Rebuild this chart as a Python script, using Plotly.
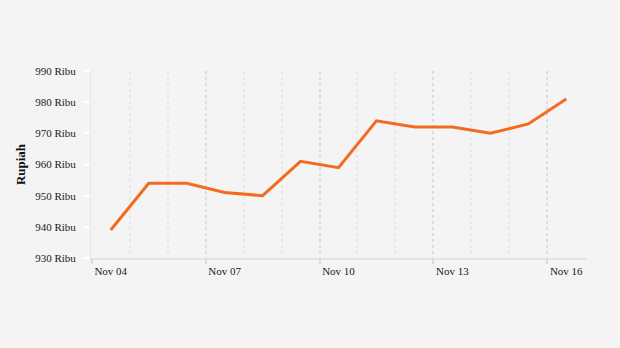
import plotly.graph_objects as go

dates = ["Nov 04", "Nov 05", "Nov 06", "Nov 07", "Nov 08", "Nov 09", "Nov 10",
         "Nov 11", "Nov 12", "Nov 13", "Nov 14", "Nov 15", "Nov 16"]
prices = [939, 954, 954, 951, 950, 961, 959, 974, 972, 972, 970, 973, 981]
y_ticks = [930, 940, 950, 960, 970, 980, 990]
y_tick_text = [f"{v} Ribu" for v in y_ticks]
x_label_idx = [0, 3, 6, 9, 12]

FONT = "Liberation Serif, Times New Roman, serif"
xs = list(range(len(dates)))

fig = go.Figure()
fig.add_trace(go.Scatter(x=xs, y=prices, mode="lines",
                         line=dict(color="#f26b21", width=3),
                         hoverinfo="skip", showlegend=False))
# invisible trace to activate the grid axis
fig.add_trace(go.Scatter(x=[xs[0]], y=[prices[0]], xaxis="x2", mode="markers",
                         marker=dict(opacity=0), hoverinfo="skip", showlegend=False))

xr = [-0.52, len(dates) - 0.48]
fig.update_layout(
    width=620, height=348,
    margin=dict(l=91, r=34, t=71, b=90),
    paper_bgcolor="#f4f4f4", plot_bgcolor="#f4f4f4",
    font=dict(family=FONT, size=11, color="#1a1a1a"),
    xaxis=dict(range=xr, tickvals=[xs[i] for i in x_label_idx],
               ticktext=[dates[i] for i in x_label_idx],
               showgrid=False, zeroline=False, ticks="",
               showline=True, linecolor="#e2e2e2", linewidth=2,
               ticklabelstandoff=2),
    xaxis2=dict(range=xr, overlaying="x", side="bottom", showticklabels=False,
                tickvals=[-0.5, 2.5, 5.5, 8.5, 11.5],
                ticks="outside", ticklen=5, tickcolor="#dcdcdc", tickwidth=1.5,
                showgrid=True, gridcolor="#dcdcdc", griddash="3px,3px", gridwidth=1.5,
                minor=dict(tick0=-0.5, dtick=1, showgrid=True, gridcolor="#e8e8e8",
                           griddash="3px,3px", gridwidth=1.5, ticks=""),
                zeroline=False),
    yaxis=dict(range=[930, 990], tickvals=y_ticks, ticktext=y_tick_text,
               showgrid=False, zeroline=False,
               showline=True, linecolor="#e6e6e6", linewidth=1,
               ticks="outside", ticklen=6, tickcolor="#ffffff", tickwidth=1.5,
               ticklabelstandoff=6,
               title=dict(text="<b>Rupiah</b>", font=dict(family=FONT, size=13, color="#111111"),
                          standoff=6)),
)

fig.write_html("out.html")
